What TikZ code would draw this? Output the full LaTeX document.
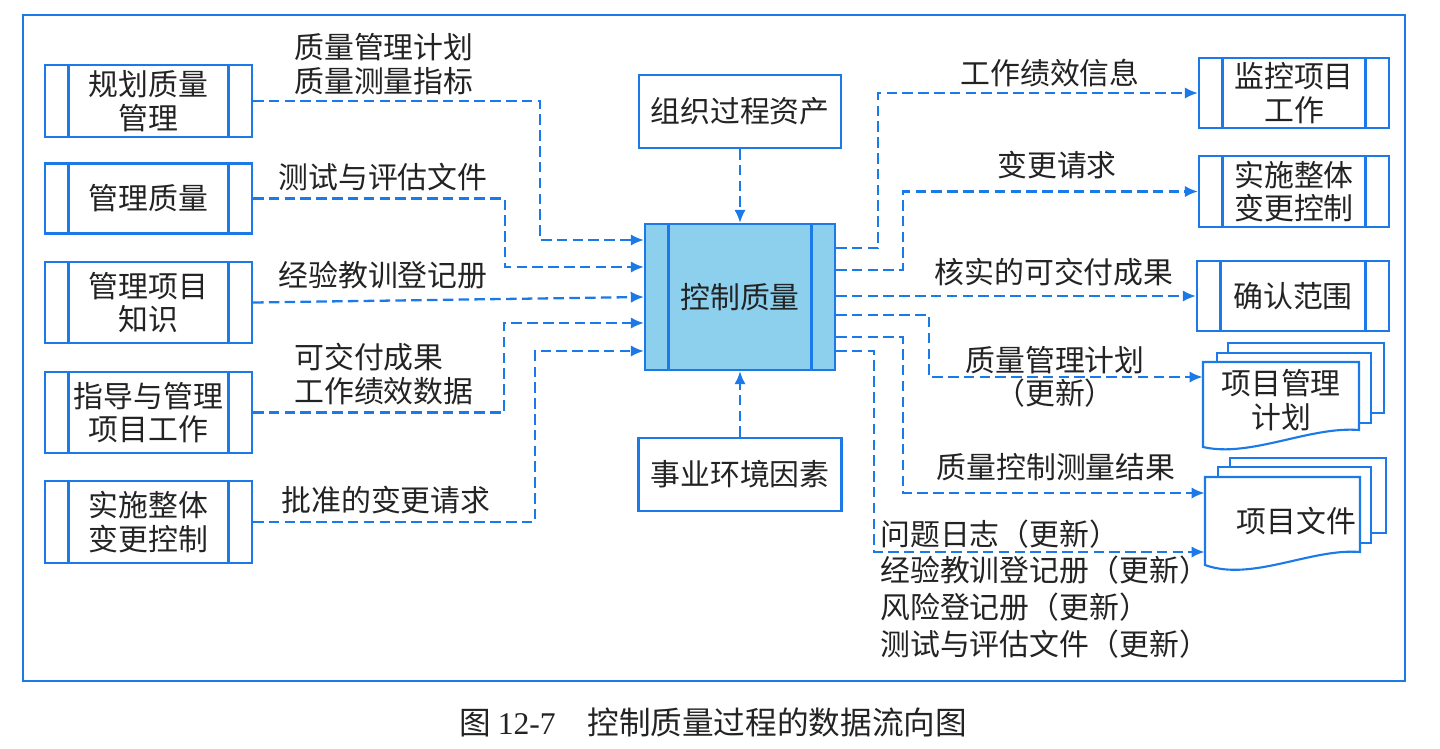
\documentclass[tikz,border=0pt]{standalone}
\usepackage{fontspec}
\setmainfont{Noto Sans CJK SC}
\newfontfamily\capnum{Liberation Serif}
\usetikzlibrary{arrows.meta}
\definecolor{lineblue}{RGB}{28,122,232}
\definecolor{boxfill}{RGB}{140,208,238}
\definecolor{inkgray}{RGB}{35,35,35}
\begin{document}
\begin{tikzpicture}[x=0.02cm,y=-0.02cm,>={Latex[length=7.5pt,width=6.5pt]},
  every node/.style={font=\fontsize{17}{19}\selectfont,text=inkgray},
  box/.style={draw=lineblue,line width=1.2pt,minimum width=#1,minimum height=1.44cm,align=center,inner sep=0pt},
  proc/.style={box=#1,path picture={\draw[lineblue,line width=1.2pt]
    ([xshift=0.47cm]path picture bounding box.north west) -- ([xshift=0.47cm]path picture bounding box.south west)
    ([xshift=-0.47cm]path picture bounding box.north east) -- ([xshift=-0.47cm]path picture bounding box.south east);}},
  flow/.style={->,lineblue,line width=1.3pt,dash pattern=on 6pt off 3pt},
  sheet/.style={draw=lineblue,line width=1.2pt,fill=white},
  lbl/.style={align=left,inner sep=0pt}]
\useasboundingbox (0,0) rectangle (1440,748);
\draw[lineblue,line width=1.3pt] (23,15) rectangle (1405,681);
\node[proc=4.14cm] (plan) at (148.5,101) {规划质量\\管理};
\node[proc=4.14cm,minimum height=1.4cm] (mgq) at (148.5,198.5) {管理质量};
\node[proc=4.14cm,minimum height=1.62cm] (know) at (148.5,302.5) {管理项目\\知识};
\node[proc=4.14cm,minimum height=1.62cm] (direct) at (148.5,412.5) {指导与管理\\项目工作};
\node[proc=4.14cm,minimum height=1.64cm] (icc) at (148.5,522) {实施整体\\变更控制};
\node[proc=3.8cm,minimum height=2.92cm,fill=boxfill] (ctrl) at (740,297) {控制质量};
\node[box=4.04cm,minimum height=1.46cm] (opa) at (740,111.5) {组织过程资产};
\node[box=4.06cm,minimum height=1.46cm] (eef) at (740,474.5) {事业环境因素};
\node[proc=3.8cm,minimum height=1.4cm] (mon) at (1294,93) {监控项目\\工作};
\node[proc=3.8cm,minimum height=1.42cm] (picc) at (1294,191.5) {实施整体\\变更控制};
\node[proc=3.84cm,minimum height=1.4cm] (vs) at (1293,296) {确认范围};
\draw[sheet] (1228,343) rectangle (1384,413);
\draw[sheet] (1217,353) rectangle (1371,423);
\draw[sheet] (1203,362) -- (1359,362) -- (1359,430) .. controls (1310,426) and (1250,458) .. (1203,447) -- cycle;
\node[minimum width=3.12cm,minimum height=1.52cm,align=center,inner sep=0pt] (pmp) at (1281,400) {项目管理\\计划};
\draw[sheet] (1230,458) rectangle (1386,533);
\draw[sheet] (1218,467) rectangle (1371,543);
\draw[sheet] (1205,477) -- (1360,477) -- (1360,552) .. controls (1311,548) and (1252,582) .. (1205,565) -- cycle;
\node[minimum width=3.1cm,minimum height=1.72cm,text width=2.95cm,align=right,inner sep=0pt] (pd) at (1282.5,521) {项目文件};
\node[lbl,anchor=west] (l1) at (294,64) {质量管理计划\\质量测量指标};
\node (l2) at (383,177) {测试与评估文件};
\node (l3) at (383,275) {经验教训登记册};
\node[lbl,anchor=west] (l4) at (294,374) {可交付成果\\工作绩效数据};
\node (l5) at (386,500) {批准的变更请求};
\node (r1) at (1050,73) {工作绩效信息};
\node (r2) at (1057,165) {变更请求};
\node (r3) at (1054,272) {核实的可交付成果};
\node[align=center] (r4) at (1055,377) {质量管理计划\\（更新）};
\node (r5) at (1056,467) {质量控制测量结果};
\node[lbl,anchor=west,font=\fontsize{17}{21}\selectfont] (r6) at (880,589) {问题日志（更新）\\经验教训登记册（更新）\\风险登记册（更新）\\测试与评估文件（更新）};
\node[font=\fontsize{18}{20}\selectfont] (cap) at (713,722) {图 {\capnum 12-7}\quad 控制质量过程的数据流向图};
\draw[flow] (plan.east) -- ++(287,0) |- ([shift={(0,-57)}]ctrl.west);
\draw[flow] (mgq.east) -- ++(252,0) |- ([shift={(0,-30)}]ctrl.west);
\draw[flow] (know.east) -- (ctrl.west);
\draw[flow] (direct.east) -- ++(251,0) |- ([shift={(0,26)}]ctrl.west);
\draw[flow] (icc.east) -- ++(282,0) |- ([shift={(0,54)}]ctrl.west);
\draw[flow] (opa) -- (ctrl);
\draw[flow] (eef) -- (ctrl);
\draw[flow] ([shift={(0,-49)}]ctrl.east) -- ++(42,0) |- (mon.west);
\draw[flow] ([shift={(0,-27)}]ctrl.east) -- ++(67,0) |- (picc.west);
\draw[flow] ([shift={(0,-1)}]ctrl.east) -- (vs.west);
\draw[flow] ([shift={(0,18)}]ctrl.east) -- ++(93,0) |- ([shift={(0,-23)}]pmp.west);
\draw[flow] ([shift={(0,40)}]ctrl.east) -- ++(67,0) |- ([shift={(0,-28)}]pd.west);
\draw[flow] ([shift={(0,54)}]ctrl.east) -- ++(38,0) |- ([shift={(0,31)}]pd.west);
\end{tikzpicture}
\end{document}
